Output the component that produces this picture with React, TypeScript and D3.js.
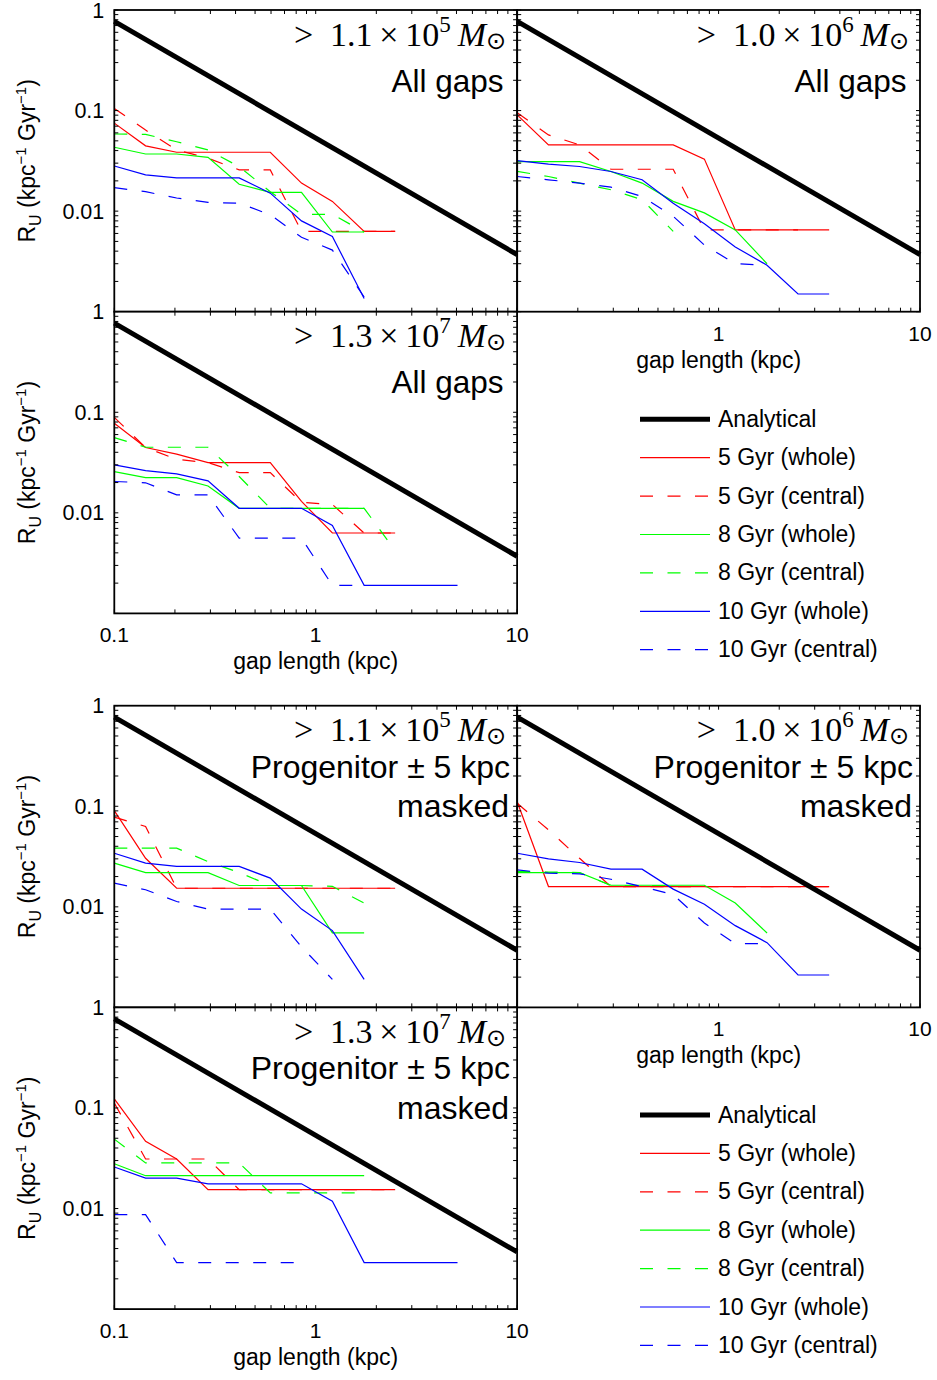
import React from 'react';
import * as d3 from 'd3';

// ---------- DATA ----------
const gapLength = [0.1, 0.143, 0.204, 0.292, 0.417, 0.595, 0.85, 1.21, 1.74, 2.48, 3.54, 5.06];
const analyticalX = [0.1, 10];
const analyticalY = [0.77, 0.0037];
const xTickLabels = ['0.1', '1', '10'];
const yTickLabels = ['1', '0.1', '0.01'];

// Panel 1: > 1.1e5, all gaps
const p1_5w = [0.075, 0.0446, 0.0385, 0.0385, 0.0385, 0.0385, 0.019, 0.0125, 0.0063, 0.0063];
const p1_5c = [0.105, 0.064, 0.0406, 0.0336, 0.0257, 0.0257, 0.0063, 0.0063, 0.0063, 0.0063];
const p1_8w = [0.0432, 0.037, 0.037, 0.0343, 0.0185, 0.0154, 0.0154, 0.0062, 0.0062];
const p1_8c = [0.0585, 0.058, 0.049, 0.0406, 0.0277, 0.0156, 0.0093, 0.0093, 0.0062];
const p1_10w = [0.0281, 0.0229, 0.0214, 0.0214, 0.0214, 0.0151, 0.008, 0.0056, 0.00135];
const p1_10c = [0.0171, 0.0156, 0.0135, 0.0122, 0.012, 0.0092, 0.0055, 0.0041, 0.0014];

// Panel 2: > 1.0e6, all gaps
const p2_5w = [0.0906, 0.0456, 0.0456, 0.0456, 0.0456, 0.0456, 0.0329, 0.0065, 0.0065, 0.0065, 0.0065];
const p2_5c = [0.095, 0.0573, 0.0456, 0.0261, 0.0261, 0.0261, 0.0065, 0.0065, 0.0065, 0.0065];
const p2_8w = [0.0311, 0.0311, 0.0311, 0.0248, 0.019, 0.0125, 0.0096, 0.0065, 0.003];
const p2_8c = [0.0248, 0.0221, 0.019, 0.0163, 0.013, 0.0063];
const p2_10w = [0.0318, 0.0293, 0.0278, 0.0248, 0.0205, 0.012, 0.0075, 0.0044, 0.0029, 0.0015, 0.0015];
const p2_10c = [0.0221, 0.0205, 0.019, 0.0173, 0.014, 0.0089, 0.0046, 0.003, 0.0029];

// Panel 3: > 1.3e7, all gaps
const p3_5w = [0.0778, 0.0446, 0.0383, 0.0316, 0.0316, 0.0316, 0.013, 0.0063, 0.0063, 0.0063];
const p3_5c = [0.089, 0.0446, 0.034, 0.0316, 0.0251, 0.0251, 0.0127, 0.0121, 0.0063, 0.0063];
const p3_8w = [0.0257, 0.0224, 0.0224, 0.0185, 0.0111, 0.0111, 0.0111, 0.0111, 0.0111];
const p3_8c = [0.056, 0.0449, 0.0449, 0.0449, 0.023, 0.0111, 0.0111, 0.0111, 0.0111, 0.0042];
const p3_10w = [0.03, 0.0263, 0.0244, 0.0208, 0.0111, 0.0111, 0.0111, 0.0075, 0.0019, 0.0019, 0.0019, 0.0019];
const p3_10c = [0.0205, 0.0199, 0.0151, 0.0151, 0.0056, 0.0056, 0.0056, 0.0019, 0.0019];

// Panel 4: > 1.1e5, progenitor masked
const p4_5w = [0.0906, 0.0304, 0.0153, 0.0153, 0.0153, 0.0153, 0.0153, 0.0153, 0.0153, 0.0153];
const p4_5c = [0.078, 0.063, 0.0153, 0.0153, 0.0153, 0.0153, 0.0153, 0.0153, 0.0153, 0.0153];
const p4_8w = [0.0272, 0.0219, 0.0219, 0.0219, 0.0163, 0.0163, 0.0163, 0.0055, 0.0055];
const p4_8c = [0.0383, 0.0383, 0.0383, 0.0282, 0.0219, 0.0163, 0.0163, 0.016, 0.0109];
const p4_10w = [0.0341, 0.0272, 0.0252, 0.0252, 0.0252, 0.0193, 0.0095, 0.0058, 0.0019];
const p4_10c = [0.0172, 0.0148, 0.0113, 0.0095, 0.0095, 0.0095, 0.004, 0.0019];

// Panel 5: > 1.0e6, progenitor masked
const p5_5w = [0.111, 0.0159, 0.0159, 0.0159, 0.0159, 0.0159, 0.0159, 0.0159, 0.0159, 0.0159, 0.0159];
const p5_5c = [0.107, 0.0582, 0.0304, 0.0159, 0.0159, 0.0159, 0.0159, 0.0159, 0.0159, 0.0159, 0.0159];
const p5_8w = [0.0219, 0.0219, 0.0219, 0.0164, 0.0164, 0.0164, 0.0164, 0.0109, 0.0055];
const p5_8c = [0.0225, 0.0222, 0.0219, 0.0163, 0.0163, 0.0163];
const p5_10w = [0.0341, 0.03, 0.0276, 0.0237, 0.0237, 0.015, 0.0106, 0.0065, 0.0044, 0.0021, 0.0021];
const p5_10c = [0.0233, 0.0216, 0.0213, 0.0188, 0.0159, 0.0132, 0.0069, 0.0043, 0.0043];

// Panel 6: > 1.3e7, progenitor masked
const p6_5w = [0.123, 0.0466, 0.0311, 0.0154, 0.0154, 0.0154, 0.0154, 0.0154, 0.0154, 0.0154];
const p6_5c = [0.112, 0.0311, 0.0311, 0.0311, 0.0154, 0.0154, 0.0154, 0.0154, 0.0154, 0.0154];
const p6_8w = [0.0279, 0.0212, 0.0212, 0.0212, 0.0212, 0.0212, 0.0212, 0.0212, 0.0212];
const p6_8c = [0.049, 0.0284, 0.0284, 0.0284, 0.0284, 0.0143, 0.0143, 0.0143, 0.0143];
const p6_10w = [0.0259, 0.0201, 0.0201, 0.0176, 0.0176, 0.0176, 0.0176, 0.0118, 0.0029, 0.0029, 0.0029, 0.0029];
const p6_10c = [0.0087, 0.0087, 0.0029, 0.0029, 0.0029, 0.0029, 0.0029];

const legendLabels = ['Analytical', '5 Gyr (whole)', '5 Gyr (central)', '8 Gyr (whole)', '8 Gyr (central)', '10 Gyr (whole)', '10 Gyr (central)'];
const seriesColors = ['#ff0000', '#ff0000', '#00ff00', '#00ff00', '#0000ff', '#0000ff'];
const seriesDashed = [false, true, false, true, false, true];

// ---------- LAYOUT ----------
const W = 937;
const H = 1380;
const colX = [114.3, 517.2];
const panelW = 402.8;
const rowY = [10, 311.7, 705.7, 1007.4];
const panelH = 301.7;
const SANS = 'Liberation Sans, Arial, Helvetica, sans-serif';
const SERIF = 'Liberation Serif, Times New Roman, serif';
const DASH = '13 14.5';

type Panel = {
  col: number; row: number; mant: string; exp: string; masked: boolean;
  series: number[][]; xLabels: boolean; firstXLabel: boolean; yLabels: boolean;
};

const panels: Panel[] = [
  { col: 0, row: 0, mant: '1.1', exp: '5', masked: false, series: [p1_5w, p1_5c, p1_8w, p1_8c, p1_10w, p1_10c], xLabels: false, firstXLabel: false, yLabels: true },
  { col: 1, row: 0, mant: '1.0', exp: '6', masked: false, series: [p2_5w, p2_5c, p2_8w, p2_8c, p2_10w, p2_10c], xLabels: true, firstXLabel: false, yLabels: false },
  { col: 0, row: 1, mant: '1.3', exp: '7', masked: false, series: [p3_5w, p3_5c, p3_8w, p3_8c, p3_10w, p3_10c], xLabels: true, firstXLabel: true, yLabels: true },
  { col: 0, row: 2, mant: '1.1', exp: '5', masked: true, series: [p4_5w, p4_5c, p4_8w, p4_8c, p4_10w, p4_10c], xLabels: false, firstXLabel: false, yLabels: true },
  { col: 1, row: 2, mant: '1.0', exp: '6', masked: true, series: [p5_5w, p5_5c, p5_8w, p5_8c, p5_10w, p5_10c], xLabels: true, firstXLabel: false, yLabels: false },
  { col: 0, row: 3, mant: '1.3', exp: '7', masked: true, series: [p6_5w, p6_5c, p6_8w, p6_8c, p6_10w, p6_10c], xLabels: true, firstXLabel: true, yLabels: true },
];

const legendTops = [419.3, 1115];
const legendStep = 38.4;

function PanelView({ p }: { p: Panel }) {
  const left = colX[p.col];
  const top = rowY[p.row];
  const right = left + panelW;
  const bottom = top + panelH;
  const x = d3.scaleLog().domain([0.1, 10]).range([left, right]);
  const y = d3.scaleLog().domain([0.001, 1]).range([bottom, top]);
  const line = d3.line<number>().x((_, i) => x(gapLength[i])).y((v) => y(v));
  const aLine = d3.line<number>().x((_, i) => x(analyticalX[i])).y((v) => y(v));
  const xt = x.ticks();
  const yt = y.ticks();
  const TL = 4;
  const majorX = [0.1, 1, 10];
  const majorY = [1, 0.1, 0.01];
  const cx = (left + right) / 2;
  const cy = (top + bottom) / 2;
  return (
    <g>
      <rect x={left} y={top} width={panelW} height={panelH} fill="#fff" />
      {p.series.map((vals, i) => (
        <path key={i} d={line(vals) || ''} fill="none" stroke={seriesColors[i]} strokeWidth={1.2}
          strokeDasharray={seriesDashed[i] ? DASH : undefined} />
      ))}
      <path d={aLine(analyticalY) || ''} fill="none" stroke="#000" strokeWidth={5} />
      {xt.map((t, i) => (
        <g key={'xt' + i}>
          <line x1={x(t)} x2={x(t)} y1={bottom} y2={bottom - TL} stroke="#000" strokeWidth={1} />
          <line x1={x(t)} x2={x(t)} y1={top} y2={top + TL} stroke="#000" strokeWidth={1} />
        </g>
      ))}
      {yt.map((t, i) => (
        <g key={'yt' + i}>
          <line x1={left} x2={left + TL} y1={y(t)} y2={y(t)} stroke="#000" strokeWidth={1} />
          <line x1={right} x2={right - TL} y1={y(t)} y2={y(t)} stroke="#000" strokeWidth={1} />
        </g>
      ))}
      <rect x={left} y={top} width={panelW} height={panelH} fill="none" stroke="#000" strokeWidth={1.8} />
      {p.xLabels && majorX.map((t, i) => (i === 0 && !p.firstXLabel) ? null : (
        <text key={'xl' + i} x={x(t)} y={bottom + 29} textAnchor="middle" fontFamily={SANS} fontSize={21}>{xTickLabels[i]}</text>
      ))}
      {p.yLabels && majorY.map((t, i) => (
        <text key={'yl' + i} x={left - 10} y={y(t) + 7.5} textAnchor="end" fontFamily={SANS} fontSize={21.5}>{yTickLabels[i]}</text>
      ))}
      {p.xLabels && (
        <text x={cx} y={bottom + 56} textAnchor="middle" fontFamily={SANS} fontSize={23}>gap length (kpc)</text>
      )}
      {p.yLabels && (
        <text transform={`translate(35,${cy}) rotate(-90)`} textAnchor="middle" fontFamily={SANS} fontSize={23} style={{ whiteSpace: 'pre' }}>
          R<tspan fontSize={16} dy={6}>U</tspan><tspan dy={-6}>{' (kpc'}</tspan><tspan fontSize={15} dy={-9}>{'\u22121'}</tspan><tspan dy={9}>{' Gyr'}</tspan><tspan fontSize={15} dy={-9}>{'\u22121'}</tspan><tspan dy={9}>)</tspan>
        </text>
      )}
      <text x={right - 11} y={top + 35.5} textAnchor="end" fontFamily={SERIF} fontSize={34} style={{ whiteSpace: 'pre' }}>
        {'>\u2002' + p.mant + '\u2009\u00d7\u200910'}<tspan fontSize={23} dy={-14}>{p.exp}</tspan><tspan dy={14} fontStyle="italic">{'\u2009M'}</tspan><tspan fontSize={24} dy={3} fontFamily="DejaVu Sans">{'\u2299'}</tspan>
      </text>
      {!p.masked ? (
        <text x={right - 13.5} y={top + 81.7} textAnchor="end" fontFamily={SANS} fontSize={31.5}>All gaps</text>
      ) : (
        <g>
          <text x={right - 7} y={top + 72} textAnchor="end" fontFamily={SANS} fontSize={32} style={{ whiteSpace: 'pre' }}>{'Progenitor \u00b1 5 kpc'}</text>
          <text x={right - 8} y={top + 111.6} textAnchor="end" fontFamily={SANS} fontSize={32}>masked</text>
        </g>
      )}
    </g>
  );
}

function Legend({ top }: { top: number }) {
  return (
    <g>
      {legendLabels.map((lab, i) => {
        const yy = top + i * legendStep;
        const isA = i === 0;
        return (
          <g key={i}>
            <line x1={640} x2={710} y1={yy} y2={yy}
              stroke={isA ? '#000' : seriesColors[i - 1]}
              strokeWidth={isA ? 5 : 1.2}
              strokeDasharray={!isA && seriesDashed[i - 1] ? DASH : undefined} />
            <text x={718} y={yy + 7.5} fontFamily={SANS} fontSize={23}>{lab}</text>
          </g>
        );
      })}
    </g>
  );
}

export default function App() {
  return (
    <div style={{ position: 'absolute', left: 0, top: 0 }}>
      <svg width={W} height={H} viewBox={`0 0 ${W} ${H}`} style={{ display: 'block', background: '#fff' }}>
        <rect x={0} y={0} width={W} height={H} fill="#fff" />
        {panels.map((p, i) => <PanelView key={i} p={p} />)}
        {legendTops.map((t, i) => <Legend key={i} top={t} />)}
      </svg>
    </div>
  );
}
